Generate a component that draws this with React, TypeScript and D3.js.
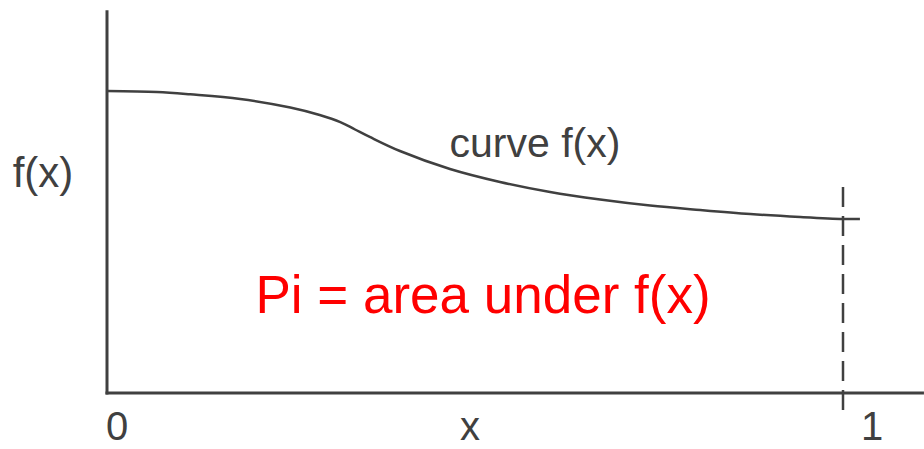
import React from "react";
import * as d3 from "d3";

// Sampled points of f(x) on [0, ~1.02]
const curveX = [0, 0.068, 0.113, 0.181, 0.249, 0.289, 0.317, 0.337, 0.357, 0.398, 0.466, 0.534, 0.602, 0.67, 0.738, 0.806, 0.874, 0.942, 1.0, 1.023];
const curveY = [4.0, 3.987, 3.956, 3.894, 3.781, 3.682, 3.589, 3.49, 3.391, 3.205, 2.967, 2.795, 2.662, 2.563, 2.483, 2.424, 2.371, 2.331, 2.305, 2.305];

// Tick labels along the x axis
const tickValues = [0, 1];
const tickLabels = ["0", "1"];

const xAxisTitle = "x";
const yAxisTitle = "f(x)";
const curveLabel = "curve f(x)";
const areaLabel = "Pi = area under f(x)";

const W = 924;
const H = 449;
const INK = "#404040";
const FONT = "'Liberation Sans', Arial, Helvetica, sans-serif";

export default function App() {
  const x = d3.scaleLinear().domain([0, 1]).range([107, 843]);
  const y = d3.scaleLinear().domain([0, 4]).range([393, 91]);

  const pts: [number, number][] = curveX.map((v, i) => [v, curveY[i]]);
  const line = d3
    .line<[number, number]>()
    .x((d) => x(d[0]))
    .y((d) => y(d[1]))
    .curve(d3.curveCatmullRom.alpha(0.5));

  const x0 = x(0);
  const y0 = y(0);
  const xEnd = x(1.11);
  const yTop = y(5.07);
  const dashTop = y(2.73);

  return (
    <svg
      width={W}
      height={H}
      style={{ position: "absolute", left: 0, top: 0, background: "#fff" }}
      fontFamily={FONT}
    >
      {/* axes */}
      <line x1={x0} y1={yTop} x2={x0} y2={y0 + 1.5} stroke={INK} strokeWidth={3} />
      <line x1={x0 - 1.5} y1={y0} x2={xEnd} y2={y0} stroke={INK} strokeWidth={3} />

      {/* dashed marker at x = 1 */}
      <line
        x1={x(1)}
        y1={dashTop}
        x2={x(1)}
        y2={y0 + 17}
        stroke={INK}
        strokeWidth={2.5}
        strokeDasharray="20 9"
      />

      {/* the curve */}
      <path d={line(pts) ?? ""} fill="none" stroke={INK} strokeWidth={2.5} />

      {/* tick labels */}
      {tickValues.map((v, i) => (
        <text
          key={v}
          x={x(v) + (i === 0 ? 10 : 29)}
          y={440}
          textAnchor="middle"
          fontSize={40}
          fill={INK}
        >
          {tickLabels[i]}
        </text>
      ))}

      <text x={470} y={440} textAnchor="middle" fontSize={40} fill={INK}>
        {xAxisTitle}
      </text>
      <text x={43} y={187} textAnchor="middle" fontSize={42} fill={INK}>
        {yAxisTitle}
      </text>
      <text x={535} y={157} textAnchor="middle" fontSize={41} fill={INK}>
        {curveLabel}
      </text>
      <text x={483} y={313} textAnchor="middle" fontSize={53} fill="#ff0000">
        {areaLabel}
      </text>
    </svg>
  );
}
